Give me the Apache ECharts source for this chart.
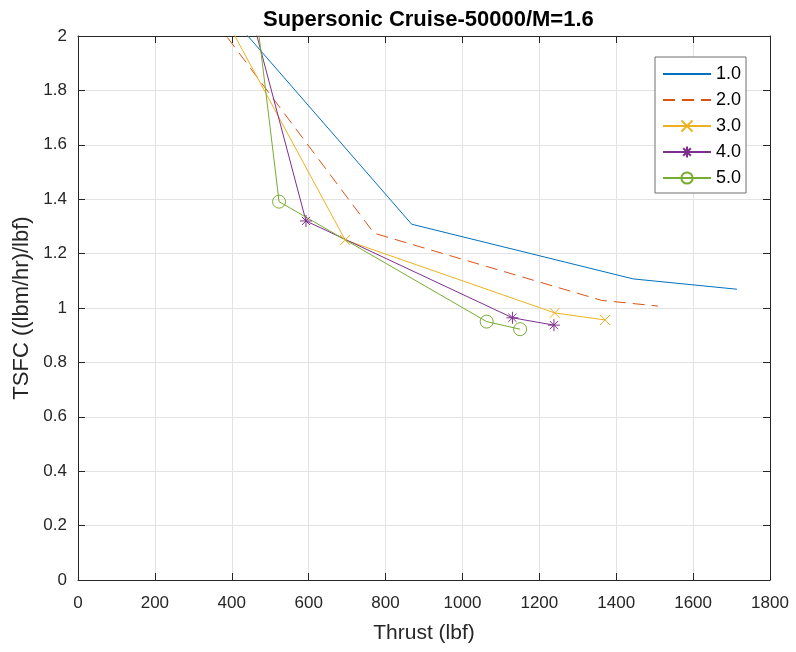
<!DOCTYPE html>
<html>
<head>
<meta charset="utf-8">
<script src="https://cdn.jsdelivr.net/npm/echarts@6/dist/echarts.min.js"></script>
<style>
html, body { margin: 0; padding: 0; background: #fff; }
#chart { width: 796px; height: 652px; }
</style>
</head>
<body>
<div id="chart"></div>
<script>
// values
var seriesNames = ['1.0', '2.0', '3.0', '4.0', '5.0'];
var thrust1 = [320, 868, 1444, 1714];
var tsfc1 = [2.198, 1.308, 1.107, 1.069];
var thrust2 = [300, 770, 1362, 1509];
var tsfc2 = [2.162, 1.275, 1.028, 1.007];
var thrust3 = [350, 695, 1240, 1371];
var tsfc3 = [2.152, 1.25, 0.982, 0.956];
var thrust4 = [430, 593, 1130, 1238];
var tsfc4 = [2.19, 1.32, 0.964, 0.937];
var thrust5 = [455, 523, 1063, 1150];
var tsfc5 = [2.187, 1.391, 0.950, 0.922];

var colors = ['#0072BD', '#D95319', '#EDB120', '#7E2F8E', '#77AC30'];
var fontName = 'Liberation Sans';
var axisColor = '#262626';

function pairs(xs, ys) {
    return xs.map(function (x, i) { return [x, ys[i]]; });
}

var crossPath = 'path://M0,0L10,10M10,0L0,10';
var starPath = 'path://M5,0L5,10M0,5L10,5M1.6,1.6L8.4,8.4M8.4,1.6L1.6,8.4';

var chart = echarts.init(document.getElementById('chart'), null, {renderer: 'canvas'});

function markerStyle(c) {
    return {color: 'rgba(0,0,0,0)', borderColor: c, borderWidth: 1};
}

var option = {
    animation: false,
    title: {
        text: 'Supersonic Cruise-50000/M=1.6',
        left: 258,
        top: 4,
        textStyle: {fontFamily: fontName, fontSize: 22, fontWeight: 'bold', color: '#000'}
    },
    grid: {left: 78, right: 26, top: 36, bottom: 72, containLabel: false},
    legend: {
        orient: 'vertical',
        left: 655,
        top: 57,
        padding: [8, 5, 6, 7],
        itemWidth: 48,
        itemHeight: 14,
        itemGap: 8,
        backgroundColor: '#fff',
        borderColor: '#6f6f6f',
        borderWidth: 1,
        borderRadius: 0,
        data: [
            {name: seriesNames[0], itemStyle: {opacity: 0}},
            {name: seriesNames[1], itemStyle: {opacity: 0}},
            seriesNames[2], seriesNames[3], seriesNames[4]
        ],
        textStyle: {fontFamily: fontName, fontSize: 18, color: '#000'}
    },
    xAxis: [{
        type: 'value',
        min: 0, max: 1800, interval: 200,
        name: 'Thrust (lbf)',
        nameLocation: 'middle',
        nameGap: 43,
        nameTextStyle: {fontFamily: fontName, fontSize: 21, color: axisColor},
        axisLine: {show: true, onZero: false, lineStyle: {color: axisColor, width: 1}},
        axisTick: {show: true, inside: true, length: 7, lineStyle: {color: axisColor}},
        axisLabel: {fontFamily: fontName, fontSize: 17, color: axisColor, margin: 15,
            formatter: function (v) { return String(v); }},
        splitLine: {show: true, lineStyle: {color: '#e3e3e3', width: 1}}
    }, {
        type: 'value',
        position: 'top',
        min: 0, max: 1800, interval: 200,
        axisLine: {show: true, onZero: false, lineStyle: {color: axisColor, width: 1}},
        axisTick: {show: true, inside: true, length: 7, lineStyle: {color: axisColor}},
        axisLabel: {show: false},
        splitLine: {show: false}
    }],
    yAxis: [{
        type: 'value',
        min: 0, max: 2, interval: 0.2,
        name: 'TSFC ((lbm/hr)/lbf)',
        nameLocation: 'middle',
        nameGap: 45,
        nameTextStyle: {fontFamily: fontName, fontSize: 22, color: axisColor},
        axisLine: {show: true, onZero: false, lineStyle: {color: axisColor, width: 1}},
        axisTick: {show: true, inside: true, length: 7, lineStyle: {color: axisColor}},
        axisLabel: {fontFamily: fontName, fontSize: 17, color: axisColor, margin: 11,
            formatter: function (v) { return String(Math.round(v * 10) / 10); }},
        splitLine: {show: true, lineStyle: {color: '#e3e3e3', width: 1}}
    }, {
        type: 'value',
        position: 'right',
        min: 0, max: 2, interval: 0.2,
        axisLine: {show: true, onZero: false, lineStyle: {color: axisColor, width: 1}},
        axisTick: {show: true, inside: true, length: 7, lineStyle: {color: axisColor}},
        axisLabel: {show: false},
        splitLine: {show: false}
    }],
    series: [{
        name: seriesNames[0],
        type: 'line',
        data: pairs(thrust1, tsfc1),
        symbol: 'none',
        clip: true,
        color: colors[0],
        lineStyle: {color: colors[0], width: 1}
    }, {
        name: seriesNames[1],
        type: 'line',
        data: pairs(thrust2, tsfc2),
        symbol: 'none',
        clip: true,
        color: colors[1],
        lineStyle: {color: colors[1], width: 1, type: [12, 7]}
    }, {
        name: seriesNames[2],
        type: 'line',
        data: pairs(thrust3, tsfc3),
        symbol: crossPath,
        symbolSize: 10,
        clip: true,
        color: colors[2],
        itemStyle: markerStyle(colors[2]),
        lineStyle: {color: colors[2], width: 1}
    }, {
        name: seriesNames[3],
        type: 'line',
        data: pairs(thrust4, tsfc4),
        symbol: starPath,
        symbolSize: 12,
        clip: true,
        color: colors[3],
        itemStyle: markerStyle(colors[3]),
        lineStyle: {color: colors[3], width: 1}
    }, {
        name: seriesNames[4],
        type: 'line',
        data: pairs(thrust5, tsfc5),
        symbol: 'circle',
        symbolSize: 13,
        clip: true,
        color: colors[4],
        itemStyle: markerStyle(colors[4]),
        lineStyle: {color: colors[4], width: 1}
    }]
};

chart.setOption(option);
</script>
</body>
</html>
